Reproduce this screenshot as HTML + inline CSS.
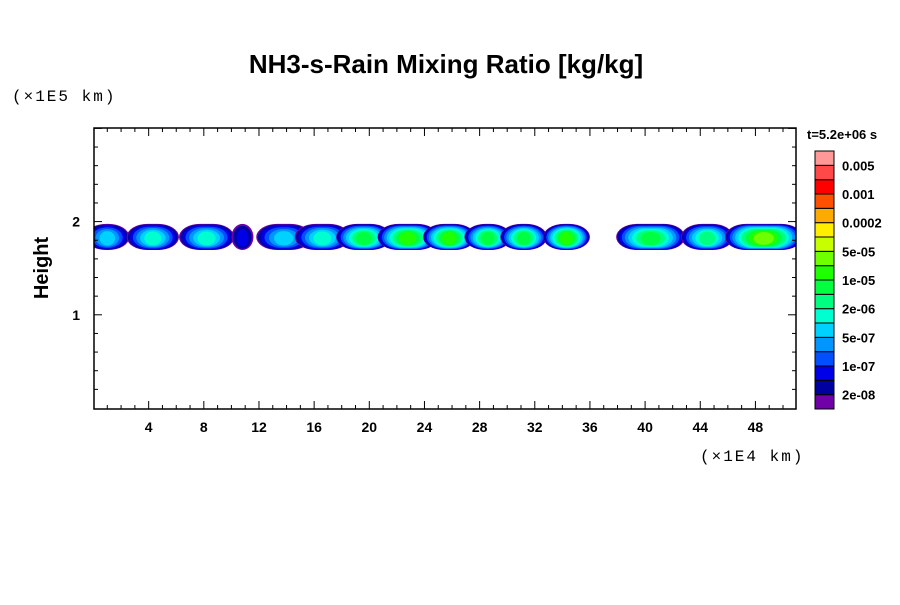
<!DOCTYPE html>
<html><head><meta charset="utf-8"><style>
body{margin:0;background:#fff;font-family:"Liberation Sans",sans-serif}
</style></head><body>
<svg id="c" width="900" height="600" xmlns="http://www.w3.org/2000/svg" font-family="Liberation Sans, sans-serif">
<rect width="900" height="600" fill="#fff"/>
<text x="446" y="73" font-size="26" font-weight="bold" text-anchor="middle">NH3-s-Rain Mixing Ratio [kg/kg]</text>
<text x="12" y="101" font-size="16" font-family="Liberation Mono, monospace" letter-spacing="2">(×1E5 km)</text>
<text x="700" y="461" font-size="16" font-family="Liberation Mono, monospace" letter-spacing="2">(×1E4 km)</text>
<text x="48" y="268" font-size="20" font-weight="bold" text-anchor="middle" transform="rotate(-90 48 268)">Height</text>
<text x="807" y="139" font-size="13" font-weight="bold">t=5.2e+06 s</text>
<g id="plot"></g>
<g id="axes"></g>
<g id="cbar"></g>
</svg>
<script>
const xTicks=[4,8,12,16,20,24,28,32,36,40,44,48];
const yTicks=[1,2];
const cbLabels=["0.005","0.001","0.0002","5e-05","1e-05","2e-06","5e-07","1e-07","2e-08"];
const levelColors=["#7000a8","#0000a0","#0000e8","#0050ff","#0096ff","#00d2ff","#00ffd0","#00ff80","#00ff40","#20ff00","#70ff00","#c8ff00","#ffee00","#ffaa00","#ff5000","#ff0000","#ff4848","#ff9898"];
const blobCenters=[1.0,4.3,8.2,10.8,13.8,16.6,19.6,22.8,25.8,28.6,31.2,34.3,40.4,44.5,48.6];
const blobWidths=[3.2,3.8,4.0,1.6,4.0,4.0,4.0,4.4,3.8,3.4,3.4,3.4,5.0,3.8,5.6];
const blobPeaks=[5,6,6,2,5,6,8,9,9,8,8,9,8,7,10];
const X0=93.5,XS=13.79,Y0=408,YS=93.2;
const sx=v=>X0+v*XS, sy=v=>Y0-v*YS;
const NS="http://www.w3.org/2000/svg";
function mk(t,a,p){const e=document.createElementNS(NS,t);for(const k in a)e.setAttribute(k,a[k]);p.appendChild(e);return e;}
const plot=document.getElementById('plot');
const cp=mk('clipPath',{id:'cp'},plot);
mk('rect',{x:94,y:128,width:702,height:281},cp);
const g=mk('g',{'clip-path':'url(#cp)'},plot);
blobCenters.forEach((c,i)=>{
  const bg=mk('g',{},g);
  
  
  const w=blobWidths[i],p=blobPeaks[i];
  for(let k=0;k<=p;k++){
    const f=1-0.85*Math.pow(k/(p+1),1.5);
    const hw=w/2*XS*f, hh=0.14*YS*(0.3+0.7*f);
    const cy=sy(1.835)+(1-f)*2;
    mk('rect',{x:sx(c)-hw,y:cy-hh,width:2*hw,height:2*hh,rx:Math.min(hw,hh*1.6),ry:hh,fill:levelColors[k]},bg);
  }
});
const ax=document.getElementById('axes');
mk('rect',{x:94,y:128,width:702,height:281,fill:'none',stroke:'#000','stroke-width':1.5},ax);
for(let v=1;v<=50;v++){const x=sx(v);const big=v%4==0;
  mk('line',{x1:x,x2:x,y1:409,y2:409-(big?8:4),stroke:'#000'},ax);
  mk('line',{x1:x,x2:x,y1:128,y2:128+(big?8:4),stroke:'#000'},ax);}
for(let v=0.2;v<3.01;v+=0.2){const y=sy(v);const big=Math.abs(v-Math.round(v))<0.01;
  mk('line',{x1:94,x2:94+(big?8:4),y1:y,y2:y,stroke:'#000'},ax);
  mk('line',{x1:796,x2:796-(big?8:4),y1:y,y2:y,stroke:'#000'},ax);}
xTicks.forEach(v=>{const t=mk('text',{x:sx(v),y:432,'font-size':14,'font-weight':'bold','text-anchor':'middle'},ax);t.textContent=v;
  
  });
yTicks.forEach(v=>{const t=mk('text',{x:80,y:sy(v)+5,'font-size':14,'font-weight':'bold','text-anchor':'end'},ax);t.textContent=v;
  
  });
const cb=document.getElementById('cbar');const bh=258/18;
for(let k=0;k<18;k++){const r=mk('rect',{x:815,y:409-(k+1)*bh,width:19,height:bh,fill:levelColors[k],stroke:'#000','stroke-width':1},cb);
  
  }
cbLabels.forEach((l,i)=>{const t=mk('text',{x:842,y:151+(2*i+1)*bh+5,'font-size':13,'font-weight':'bold'},cb);t.textContent=l;
  
  });
</script>
</body></html>
